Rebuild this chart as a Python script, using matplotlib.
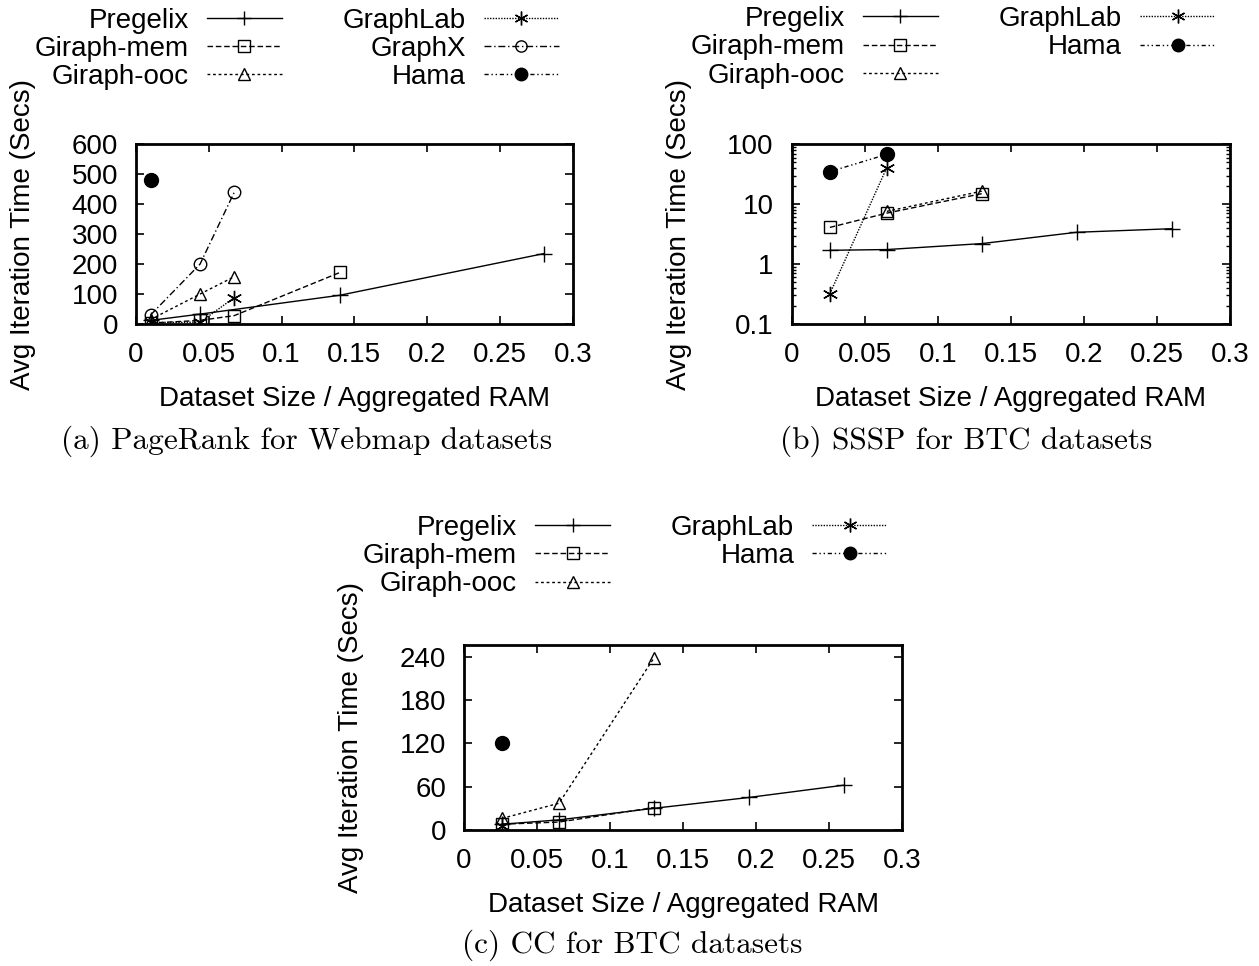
import matplotlib
matplotlib.use("Agg")
import matplotlib.pyplot as plt
from matplotlib.ticker import FixedLocator, FuncFormatter, LogLocator, NullFormatter

plt.rcParams['font.family'] = ['Liberation Sans', 'DejaVu Sans']

# ---- (a) PageRank for Webmap datasets ----
pr_pregelix_x = [0.01, 0.044, 0.14, 0.28]
pr_pregelix_y = [12, 33, 96, 235]
pr_gmem_x = [0.01, 0.044, 0.0675, 0.14]
pr_gmem_y = [3, 12, 28, 172]
pr_gooc_x = [0.01, 0.044, 0.0675]
pr_gooc_y = [15, 100, 158]
pr_graphlab_x = [0.01, 0.044, 0.0675]
pr_graphlab_y = [5, 6, 88]
pr_graphx_x = [0.01, 0.044, 0.0675]
pr_graphx_y = [30, 200, 440]
pr_hama_x = [0.01]
pr_hama_y = [480]

# ---- (b) SSSP for BTC datasets ----
ss_pregelix_x = [0.026, 0.065, 0.13, 0.195, 0.26]
ss_pregelix_y = [1.7, 1.75, 2.2, 3.4, 3.9]
ss_gmem_x = [0.026, 0.065, 0.13]
ss_gmem_y = [4.1, 7.1, 15]
ss_gooc_x = [0.065, 0.13]
ss_gooc_y = [7.6, 16.5]
ss_graphlab_x = [0.026, 0.065]
ss_graphlab_y = [0.32, 41]
ss_hama_x = [0.026, 0.065]
ss_hama_y = [35, 68]

# ---- (c) CC for BTC datasets ----
cc_pregelix_x = [0.026, 0.065, 0.13, 0.195, 0.26]
cc_pregelix_y = [8, 14, 30, 45, 62]
cc_gmem_x = [0.026, 0.065, 0.13]
cc_gmem_y = [8, 11, 31]
cc_gooc_x = [0.026, 0.065, 0.13]
cc_gooc_y = [16, 37, 238]
cc_graphlab_x = [0.026]
cc_graphlab_y = [5]
cc_hama_x = [0.026]
cc_hama_y = [120]

x_ticks = [0, 0.05, 0.1, 0.15, 0.2, 0.25, 0.3]

styles = {
    "Pregelix":   dict(ls="-", marker="+", mfc="none", ms=11),
    "Giraph-mem": dict(ls=(0, (4, 2)), marker="s", mfc="none", ms=9),
    "Giraph-ooc": dict(ls=(0, (2, 2)), marker="^", mfc="none", ms=9),
    "GraphLab":   dict(ls=(0, (1, 1)), marker=(6, 2, 0), mfc="none", ms=11),
    "GraphX":     dict(ls=(0, (5, 2, 1, 2)), marker="o", mfc="none", ms=9),
    "Hama":       dict(ls=(0, (3, 2, 1, 2, 1, 2)), marker="o", mfc="black", ms=10),
}

FS = 20

fig = plt.figure(figsize=(12.59, 9.66), dpi=100)


def fmt(v, pos):
    return "%g" % v


def make_panel(rect, series, log=False, yticks=None, ylim=None, legend_anchor=None):
    ax = fig.add_axes(rect)
    for name, xs, ys in series:
        ax.plot(xs, ys, color="black", lw=1.0, mew=1.0, label=name, **styles[name])
    ax.set_xlim(0, 0.3)
    ax.xaxis.set_major_locator(FixedLocator(x_ticks))
    ax.xaxis.set_major_formatter(FuncFormatter(fmt))
    if log:
        ax.set_yscale("log")
        ax.set_ylim(0.1, 100)
        ax.yaxis.set_major_locator(LogLocator(base=10, numticks=10))
        ax.yaxis.set_minor_locator(LogLocator(base=10, subs=range(2, 10), numticks=10))
        ax.yaxis.set_minor_formatter(NullFormatter())
        ax.yaxis.set_major_formatter(FuncFormatter(fmt))
    else:
        ax.set_ylim(*ylim)
        ax.yaxis.set_major_locator(FixedLocator(yticks))
        ax.yaxis.set_major_formatter(FuncFormatter(fmt))
    ax.tick_params(which="both", direction="in", top=True, right=True, labelsize=FS, pad=13)
    ax.tick_params(which="major", length=6, width=1.2)
    ax.tick_params(which="minor", length=3, width=1.0)
    for sp in ax.spines.values():
        sp.set_linewidth(2.0)
    ax.set_xlabel("Dataset Size / Aggregated RAM", fontsize=FS, labelpad=13)
    ax.set_ylabel("Avg Iteration Time (Secs)", fontsize=FS)
    ax.yaxis.set_label_coords(-0.228, 0.5)
    ax.legend(loc="upper right", bbox_to_anchor=legend_anchor, ncol=2, frameon=False,
              markerfirst=False, fontsize=FS, handlelength=2.7, handletextpad=0.65,
              columnspacing=2.2, labelspacing=0.08, borderpad=0, borderaxespad=0,
              markerscale=0.9)
    return ax


make_panel([0.108, 0.6646, 0.347, 0.186],
           [("Pregelix", pr_pregelix_x, pr_pregelix_y),
            ("Giraph-mem", pr_gmem_x, pr_gmem_y),
            ("Giraph-ooc", pr_gooc_x, pr_gooc_y),
            ("GraphLab", pr_graphlab_x, pr_graphlab_y),
            ("GraphX", pr_graphx_x, pr_graphx_y),
            ("Hama", pr_hama_x, pr_hama_y)],
           yticks=[0, 100, 200, 300, 400, 500, 600], ylim=(0, 600),
           legend_anchor=(0.968, 1.761))

make_panel([0.629, 0.6646, 0.348, 0.186],
           [("Pregelix", ss_pregelix_x, ss_pregelix_y),
            ("Giraph-mem", ss_gmem_x, ss_gmem_y),
            ("Giraph-ooc", ss_gooc_x, ss_gooc_y),
            ("GraphLab", ss_graphlab_x, ss_graphlab_y),
            ("Hama", ss_hama_x, ss_hama_y)],
           log=True, legend_anchor=(0.966, 1.769))

make_panel([0.3686, 0.1408, 0.348, 0.1915],
           [("Pregelix", cc_pregelix_x, cc_pregelix_y),
            ("Giraph-mem", cc_gmem_x, cc_gmem_y),
            ("Giraph-ooc", cc_gooc_x, cc_gooc_y),
            ("GraphLab", cc_graphlab_x, cc_graphlab_y),
            ("Hama", cc_hama_x, cc_hama_y)],
           yticks=[0, 60, 120, 180, 240], ylim=(0, 256),
           legend_anchor=(0.966, 1.703))

cap = dict(fontsize=22.5, family="cmr10", ha="center", va="center")
fig.text(307 / 1259, 1 - 441 / 966, "(a) PageRank for Webmap datasets", **cap)
fig.text(966 / 1259, 1 - 441 / 966, "(b) SSSP for BTC datasets", **cap)
fig.text(632 / 1259, 1 - 945 / 966, "(c) CC for BTC datasets", **cap)

fig.savefig("out.png", dpi=100)
